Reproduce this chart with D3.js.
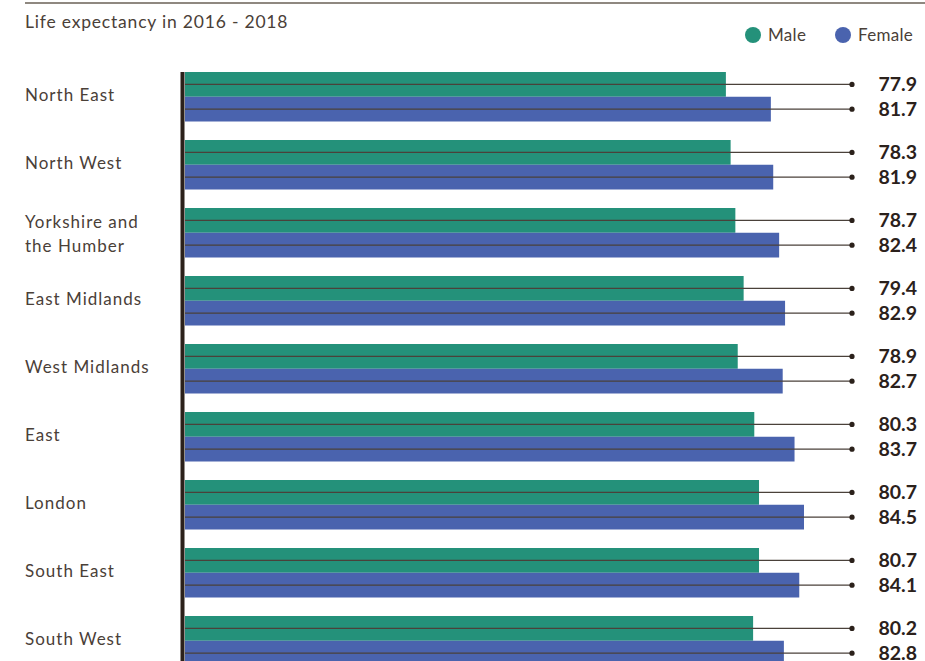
<!DOCTYPE html>
<html><head><meta charset="utf-8">
<script src="https://cdn.jsdelivr.net/npm/d3@7"></script>
<style>
html,body{margin:0;padding:0;background:#fff;}
svg{display:block;}
</style></head>
<body>
<script>
const regions = ["North East","North West","Yorkshire and the Humber","East Midlands","West Midlands","East","London","South East","South West"];
const regionLines = [["North East"],["North West"],["Yorkshire and","the Humber"],["East Midlands"],["West Midlands"],["East"],["London"],["South East"],["South West"]];
const series = ["Male","Female"];
const maleValues = [77.9,78.3,78.7,79.4,78.9,80.3,80.7,80.7,80.2];
const femaleValues = [81.7,81.9,82.4,82.9,82.7,83.7,84.5,84.1,82.8];
const title = "Life expectancy in 2016 - 2018";

const W = 925, H = 661;
const colors = {Male:"#24917a", Female:"#4a63ae"};
const textCol = "#4a4038", dark = "#2b211b";

const svg = d3.select("body").append("svg").attr("width",W).attr("height",H);

// top rule
svg.append("line").attr("x1",25).attr("x2",W).attr("y1",3).attr("y2",3)
  .attr("stroke","#8f8880").attr("stroke-width",2);

svg.append("text").attr("x",25).attr("y",28).text(title)
  .attr("font-family","Lato, 'Open Sans', sans-serif").attr("font-size",17.5)
  .attr("letter-spacing",0.8).attr("fill",textCol);

// legend
const leg = [{k:"Male",cx:753,tx:768},{k:"Female",cx:843,tx:858}];
leg.forEach(l=>{
  svg.append("circle").attr("cx",l.cx).attr("cy",35).attr("r",8).attr("fill",colors[l.k]);
  svg.append("text").attr("x",l.tx).attr("y",41).text(l.k)
    .attr("font-family","Lato, 'Open Sans', sans-serif").attr("font-size",17)
    .attr("letter-spacing",0.3).attr("fill",textCol);
});

const step = 68, pi = (68-49.5)/68;
const y = d3.scaleBand().domain(regions).range([72, 72 + step*(regions.length - pi)])
  .paddingInner(pi).paddingOuter(0).align(0);
const ySub = d3.scaleBand().domain(series).range([0, y.bandwidth()]);
const x = d3.scaleLinear().domain([32.2, 84.5]).range([185, 804]);

const data = regions.map((r,i)=>({region:r, lines:regionLines[i], Male:maleValues[i], Female:femaleValues[i]}));

const g = svg.append("g");
const rows = g.selectAll("g.row").data(data).enter().append("g")
  .attr("transform",d=>`translate(0,${y(d.region)})`);

series.forEach(s=>{
  rows.append("rect").attr("x",x(32.2)).attr("y",ySub(s))
    .attr("width",d=>x(d[s])-x(32.2)).attr("height",ySub.bandwidth())
    .attr("fill",colors[s]);
  rows.append("line").attr("x1",x(32.2)).attr("x2",852)
    .attr("y1",ySub(s)+ySub.bandwidth()/2).attr("y2",ySub(s)+ySub.bandwidth()/2)
    .attr("stroke","#4a413a").attr("stroke-width",1.3);
  rows.append("circle").attr("cx",852).attr("cy",ySub(s)+ySub.bandwidth()/2).attr("r",2.6).attr("fill",dark);
  rows.append("text").attr("x",917).attr("y",ySub(s)+ySub.bandwidth()/2+7)
    .attr("text-anchor","end").text(d=>d[s].toFixed(1))
    .attr("font-family","Lato, 'Open Sans', sans-serif").attr("font-weight",700)
    .attr("font-size",19.5).attr("fill",dark);
});

// region labels
rows.each(function(d){
  const n = d.lines.length;
  const t = d3.select(this).append("text")
    .attr("font-family","Lato, 'Open Sans', sans-serif").attr("font-size",17)
    .attr("letter-spacing",1).attr("fill",textCol);
  const off = n > 1 ? 3.5 : 0;
  d.lines.forEach((ln,j)=>{
    t.append("tspan").attr("x",25).attr("y",y.bandwidth()/2 + 4 + off + (j-(n-1)/2)*24).text(ln);
  });
});

// axis line
svg.append("line").attr("x1",182.5).attr("x2",182.5).attr("y1",72).attr("y2",H)
  .attr("stroke",dark).attr("stroke-width",4);
</script>
</body></html>
